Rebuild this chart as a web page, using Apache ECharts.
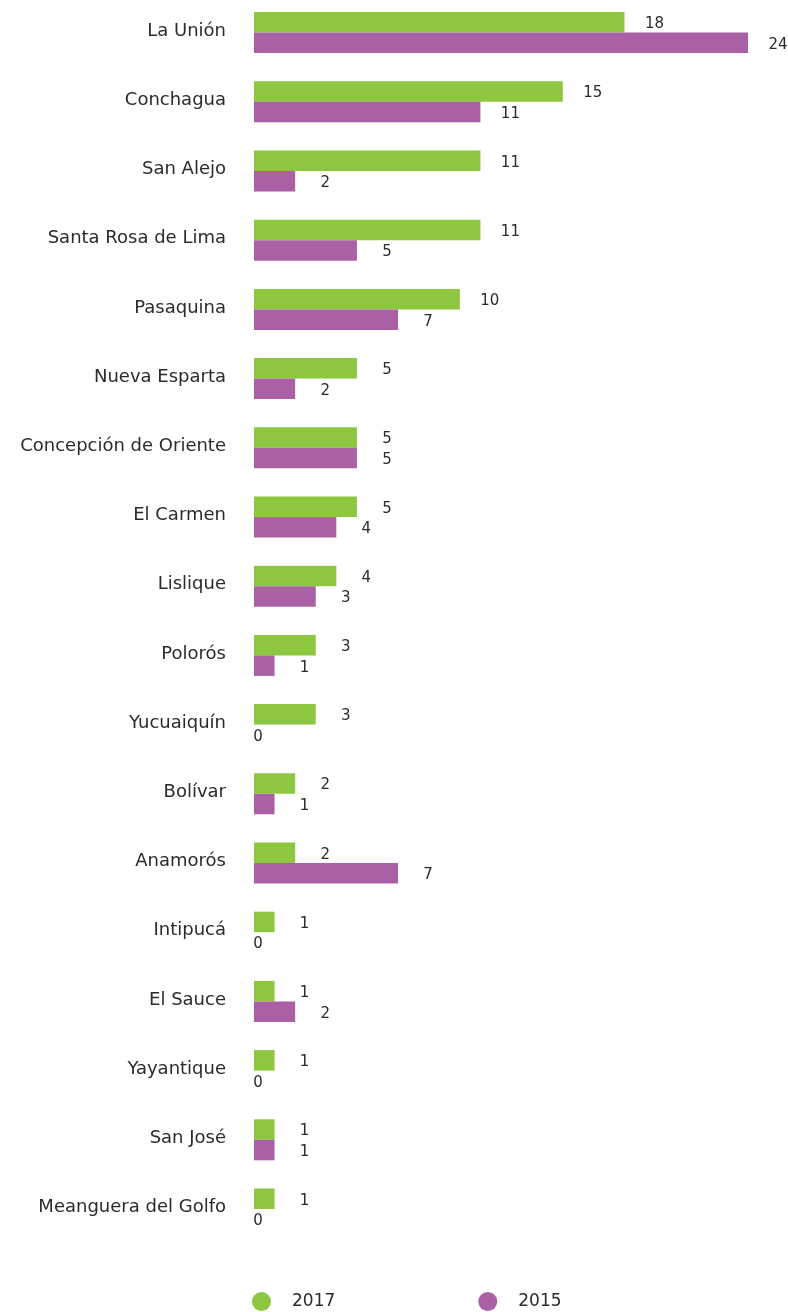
<!DOCTYPE html>
<html>
<head>
<meta charset="utf-8">
<script src="https://cdn.jsdelivr.net/npm/echarts@6/dist/echarts.min.js"></script>
<style>
html,body{margin:0;padding:0;background:#fff;overflow:hidden;}
#chart{width:788px;height:1314px;position:relative;top:-2px;}
</style>
</head>
<body>
<div id="chart"></div>
<script>
const categories = ["La Unión","Conchagua","San Alejo","Santa Rosa de Lima","Pasaquina","Nueva Esparta","Concepción de Oriente","El Carmen","Lislique","Polorós","Yucuaiquín","Bolívar","Anamorós","Intipucá","El Sauce","Yayantique","San José","Meanguera del Golfo"];
const values2017 = [18,15,11,11,10,5,5,5,4,3,3,2,2,1,1,1,1,1];
const values2015 = [24,11,2,5,7,2,5,4,3,1,0,1,7,0,2,0,1,0];
const seriesNames = ["2017","2015"];

const FONT = "DejaVu Sans";
const TEXT = "#2b2b2b";

function buildData(arr) {
  return arr.map(v => v === 0 ? { value: v, label: { distance: 4 } } : v);
}

const labelStyle = {
  show: true,
  position: 'right',
  distance: 30,
  align: 'center',
  offset: [0, 2],
  fontFamily: FONT,
  fontSize: 15,
  color: TEXT
};

const chart = echarts.init(document.getElementById('chart'));
chart.setOption({
  animation: false,
  backgroundColor: '#fff',
  grid: { left: 254, right: 40, top: 0, height: 1245.6 },
  xAxis: { type: 'value', min: 0, max: 24, show: false },
  yAxis: {
    type: 'category',
    data: categories,
    inverse: true,
    axisLine: { show: false },
    axisTick: { show: false },
    splitLine: { show: false },
    axisLabel: { margin: 28, fontFamily: FONT, fontSize: 18, color: TEXT, verticalAlign: 'bottom', lineHeight: 3 }
  },
  legend: {
    left: 247, top: 1289,
    icon: 'circle', itemWidth: 19, itemHeight: 19, itemGap: 143,
    textStyle: { fontFamily: FONT, fontSize: 17, color: TEXT, padding: [0, 0, 0, 16] },
    data: seriesNames
  },
  series: [
    { name: seriesNames[0], type: 'bar', data: buildData(values2017), barWidth: 20.5, barGap: '0%',
      itemStyle: { color: '#8dc63f' }, label: labelStyle },
    { name: seriesNames[1], type: 'bar', data: buildData(values2015), barWidth: 20.5, barGap: '0%',
      itemStyle: { color: '#a960a5' }, label: labelStyle }
  ]
});
</script>
</body>
</html>
